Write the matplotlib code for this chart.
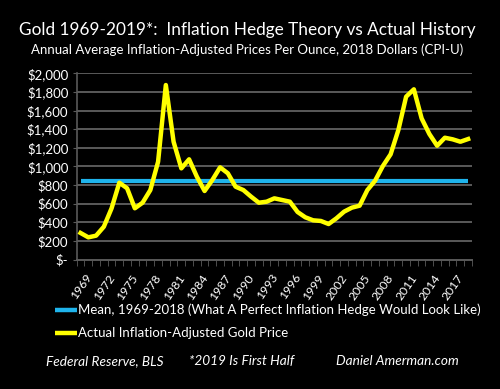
import matplotlib
matplotlib.use("Agg")
import matplotlib.pyplot as plt
from matplotlib.lines import Line2D
from matplotlib.transforms import ScaledTranslation

years = list(range(1969, 2020))
gold_real = [285, 238, 256, 352, 550, 825, 765, 550, 610, 746,
             1050, 1874, 1265, 979, 1076, 890, 736, 854, 990, 926,
             782, 746, 675, 610, 621, 657, 639, 621, 510, 453,
             421, 414, 381, 442, 514, 557, 578, 746, 847, 1004,
             1130, 1391, 1749, 1828, 1516, 1348, 1222, 1308, 1291, 1265,
             1294]
mean_1969_2018 = 840
ytick_vals = [0, 200, 400, 600, 800, 1000, 1200, 1400, 1600, 1800, 2000]
ytick_labels = ["$-", "$200", "$400", "$600", "$800", "$1,000", "$1,200",
                "$1,400", "$1,600", "$1,800", "$2,000"]
label_years = years[::3]

title = "Gold 1969-2019*:  Inflation Hedge Theory vs Actual History"
subtitle = "Annual Average Inflation-Adjusted Prices Per Ounce, 2018 Dollars (CPI-U)"
legend_labels = ["Mean, 1969-2018 (What A Perfect Inflation Hedge Would Look Like)",
                 "Actual Inflation-Adjusted Gold Price"]
footer = ["Federal Reserve, BLS", "*2019 Is First Half", "Daniel Amerman.com"]

FONT = "Lato"
W, H = 500, 389
fig = plt.figure(figsize=(W / 100, H / 100), dpi=100, facecolor="black")

def fx(px):
    return px / W

def fy(py):
    return 1 - py / H

ax = fig.add_axes([fx(76.7), fy(259.5), fx(472) - fx(76.7), fy(73.3) - fy(259.5)])
ax.set_facecolor("black")
n = len(years)
xs = list(range(n))
BLUE = "#1FB4EC"
YELLOW = "#FFFF00"
GRID = "#5a5a5a"

ax.plot([0, n - 1], [mean_1969_2018, mean_1969_2018], color=BLUE, lw=3.0,
        solid_capstyle="butt", zorder=3)
ax.plot(xs, gold_real, color=YELLOW, lw=3.2, solid_joinstyle="round", zorder=4)

ax.set_xlim(-0.5, n - 0.5)
ax.set_ylim(0, 2000)
ax.set_yticks(ytick_vals)
ax.set_yticklabels(ytick_labels)
for v in ytick_vals[1:]:
    ax.axhline(v, color=GRID, lw=1.4, zorder=1)

for s in ["top", "right"]:
    ax.spines[s].set_visible(False)
ax.spines["left"].set_color(GRID)
ax.spines["bottom"].set_color(GRID)
ax.spines["left"].set_linewidth(1.2)
ax.spines["bottom"].set_linewidth(1.4)

ax.tick_params(axis="y", colors="white", length=3, color=GRID, labelsize=9.5, pad=3)
for t in ax.get_yticklabels():
    t.set_fontfamily(FONT)

ax.set_xticks([i - 0.5 for i in range(n + 1)], minor=True)
ax.tick_params(axis="x", which="minor", length=4, color=GRID, direction="out")
ax.set_xticks([years.index(y) for y in label_years])
ax.set_xticklabels([str(y) for y in label_years], rotation=55, ha="right",
                   va="top", rotation_mode="anchor", fontfamily=FONT)
ax.tick_params(axis="x", which="major", length=0, colors="white", labelsize=8.8, pad=9)
shift = ScaledTranslation(4 / 100, 0, fig.dpi_scale_trans)
for t in ax.get_xticklabels():
    t.set_transform(t.get_transform() + shift)

fig.text(0.494, fy(30), title, color="white", fontsize=12.4, ha="center",
         va="center", fontfamily=FONT)
fig.text(0.495, fy(50), subtitle, color="white", fontsize=9.5, ha="center",
         va="center", fontfamily=FONT)

leg_colors = [BLUE, YELLOW]
leg_y = [310, 333]
for c, lab, yy in zip(leg_colors, legend_labels, leg_y):
    fig.add_artist(Line2D([fx(55), fx(77)], [fy(yy), fy(yy)], color=c,
                          lw=3.2, solid_capstyle="butt"))
    fig.text(fx(78), fy(yy), lab, color="white", fontsize=9.5, ha="left",
             va="center", fontfamily=FONT)

for txt, xpx in zip(footer, [46, 189, 336]):
    fig.text(fx(xpx), fy(361), txt, color="white", fontsize=9.8, ha="left",
             va="center", fontfamily=FONT, style="italic")

fig.savefig("out.png", dpi=100, facecolor="black")
